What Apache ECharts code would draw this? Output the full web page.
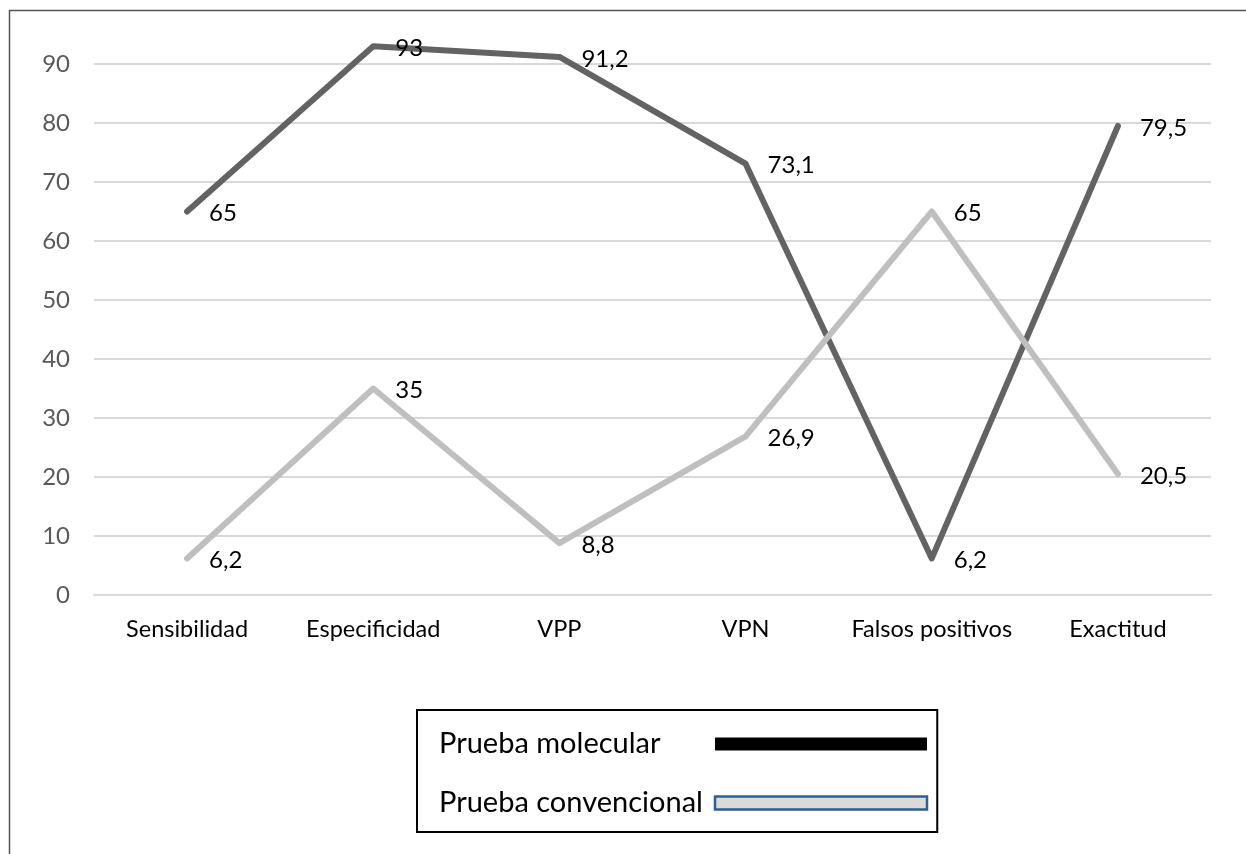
<!DOCTYPE html>
<html><head><meta charset="utf-8">
<script src="https://cdn.jsdelivr.net/npm/echarts@6/dist/echarts.min.js"></script>
<style>html,body{margin:0;padding:0;background:#fff}#c{width:1246px;height:854px}</style>
</head><body><div id="c"></div>
<script>
const categories = ['Sensibilidad', 'Especificidad', 'VPP', 'VPN', 'Falsos positivos', 'Exactitud'];
const molecular = [65, 93, 91.2, 73.1, 6.2, 79.5];
const convencional = [6.2, 35, 8.8, 26.9, 65, 20.5];
const seriesNames = ['Prueba molecular', 'Prueba convencional'];
const yTicks = [0, 10, 20, 30, 40, 50, 60, 70, 80, 90];

const FONT = 'Lato';
const fmt = p => String(p.value).replace('.', ',');

const chart = echarts.init(document.getElementById('c'), null, {renderer: 'canvas'});
const mkSeries = (name, data, color) => ({
  name, type: 'line', data, clip: false,
  symbol: 'circle', symbolSize: 2, showSymbol: true,
  itemStyle: {color},
  lineStyle: {color, width: 6, cap: 'round', join: 'round'},
  label: {show: true, position: 'right', distance: 21, offset: [0, 2],
    color: '#000', fontFamily: FONT, fontSize: 24, formatter: fmt},
  emphasis: {disabled: true}
});

chart.setOption({
  animation: false,
  backgroundColor: '#fff',
  graphic: [{type: 'rect', shape: {x: 9.5, y: 10.5, width: 1400, height: 1000},
    style: {fill: 'none', stroke: '#555', lineWidth: 1.5}, silent: true, z: 100}],
  grid: {left: 94, right: 35, top: 64, bottom: 259, containLabel: false},
  xAxis: {
    type: 'category', data: categories, boundaryGap: true,
    axisLine: {show: true, lineStyle: {color: '#d9d9d9', width: 2}},
    axisTick: {show: false},
    axisLabel: {color: '#000', fontFamily: FONT, fontSize: 23.5, margin: 22, interval: 0}
  },
  yAxis: {
    type: 'value', min: yTicks[0], max: yTicks[yTicks.length - 1], interval: yTicks[1] - yTicks[0],
    axisLine: {show: false}, axisTick: {show: false},
    splitLine: {lineStyle: {color: '#d9d9d9', width: 2}},
    axisLabel: {color: '#595959', fontFamily: FONT, fontSize: 24, margin: 24}
  },
  legend: {
    left: 417, top: 710, orient: 'vertical', align: 'right',
    padding: [16, 9, 11, 22], itemGap: 23,
    borderColor: '#000', borderWidth: 2,
    itemWidth: 212, itemHeight: 13, icon: 'rect', selectedMode: false,
    formatter: name => '{a|' + name + '}',
    textStyle: {color: '#000', fontFamily: FONT, fontSize: 29, lineHeight: 36,
      rich: {a: {width: 271, align: 'left', color: '#000', fontFamily: FONT, fontSize: 29, lineHeight: 36}}},
    data: [
      {name: seriesNames[0], itemStyle: {color: '#000', borderWidth: 0}},
      {name: seriesNames[1], itemStyle: {color: '#dadada', borderColor: '#2f5f8f', borderWidth: 2.5}}
    ]
  },
  series: [
    mkSeries(seriesNames[0], molecular, '#636363'),
    mkSeries(seriesNames[1], convencional, '#bfbfbf')
  ]
});
</script></body></html>
